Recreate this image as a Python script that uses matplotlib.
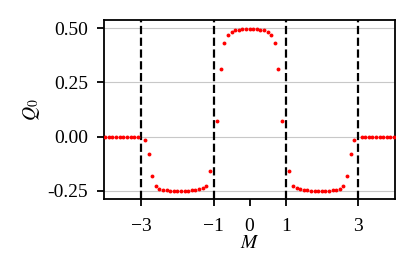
import numpy as np
import matplotlib
matplotlib.use("Agg")
import matplotlib.pyplot as plt

plt.rcParams['font.family'] = ['Liberation Serif', 'DejaVu Serif']
plt.rcParams['mathtext.fontset'] = 'stix'
plt.rcParams['font.size'] = 14

# M sampled every 0.1, gap-closing points (|M| = 1, 3) left out
M_outer_left = [-4.0, -3.9, -3.8, -3.7, -3.6, -3.5, -3.4, -3.3, -3.2, -3.1]
Q_outer_left = [0.0] * 10

M_mid_left = [-2.9, -2.8, -2.7, -2.6, -2.5, -2.4, -2.3, -2.2, -2.1, -2.0,
              -1.9, -1.8, -1.7, -1.6, -1.5, -1.4, -1.3, -1.2, -1.1]
Q_mid_left = [-0.017, -0.081, -0.180, -0.228, -0.240, -0.245, -0.248, -0.249, -0.25, -0.25,
              -0.25, -0.249, -0.249, -0.248, -0.246, -0.243, -0.237, -0.226, -0.158]

M_center = [-0.9, -0.8, -0.7, -0.6, -0.5, -0.4, -0.3, -0.2, -0.1, 0.0,
            0.1, 0.2, 0.3, 0.4, 0.5, 0.6, 0.7, 0.8, 0.9]
Q_center = [0.070, 0.312, 0.431, 0.469, 0.484, 0.490, 0.493, 0.495, 0.496, 0.497,
            0.496, 0.495, 0.493, 0.490, 0.484, 0.469, 0.431, 0.312, 0.070]

M_mid_right = [1.1, 1.2, 1.3, 1.4, 1.5, 1.6, 1.7, 1.8, 1.9, 2.0,
               2.1, 2.2, 2.3, 2.4, 2.5, 2.6, 2.7, 2.8, 2.9]
Q_mid_right = [-0.158, -0.226, -0.237, -0.243, -0.246, -0.248, -0.249, -0.249, -0.25, -0.25,
               -0.25, -0.249, -0.248, -0.245, -0.240, -0.228, -0.180, -0.081, -0.017]

M_outer_right = [3.1, 3.2, 3.3, 3.4, 3.5, 3.6, 3.7, 3.8, 3.9, 4.0]
Q_outer_right = [0.0] * 10

critical_M = [-3, -1, 1, 3]
xtick_vals = [-3, -1, 0, 1, 3]
ytick_vals = [-0.25, 0.0, 0.25, 0.50]

M = np.array(M_outer_left + M_mid_left + M_center + M_mid_right + M_outer_right)
Q = np.array(Q_outer_left + Q_mid_left + Q_center + Q_mid_right + Q_outer_right)

fig = plt.figure(figsize=(4.15, 2.77), dpi=100)
ax = fig.add_axes([0.251, 0.282, 0.701, 0.646])

ax.grid(axis='y', color='#c8c8c8', lw=0.8)
for m in critical_M:
    ax.axvline(m, color='black', ls='--', lw=1.6)
ax.plot(M, Q, 'o', color='red', ms=2.8, mew=0, zorder=3)

ax.set_xlim(-4.03, 4.03)
ax.set_ylim(-0.2875, 0.5375)
ax.set_xticks(xtick_vals)
ax.set_yticks(ytick_vals)
ax.set_yticklabels(['%.2f' % v for v in ytick_vals])
ax.set_axisbelow(True)

for s in ax.spines.values():
    s.set_linewidth(1.3)
ax.tick_params(width=1.3, length=5)
ax.tick_params(axis='x', pad=9)
ax.tick_params(axis='y', pad=6.5)

ax.set_xlabel('$M$', labelpad=0)
ax.set_ylabel('$Q_0$', labelpad=4)

fig.savefig('out.png', dpi=100)
